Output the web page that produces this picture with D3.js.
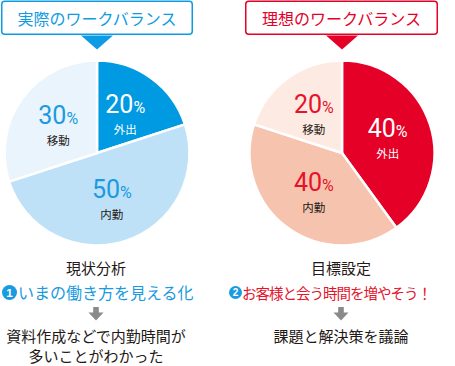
<!DOCTYPE html>
<html><head><meta charset="utf-8">
<script src="https://cdn.jsdelivr.net/npm/d3@7"></script>
<style>
html,body{margin:0;padding:0;background:#fff;}
text{font-family:"Noto Sans CJK JP","Noto Sans",sans-serif;}
</style></head>
<body><svg id="c" width="455" height="366"></svg>
<script>
const categories = ["外出", "内勤", "移動"];
const actualValues = [20, 50, 30];
const idealValues = [40, 40, 20];
const titles = ["実際のワークバランス", "理想のワークバランス"];
const headings = ["現状分析", "目標設定"];
const badges = ["1", "2"];
const goals = ["いまの働き方を見える化", "お客様と会う時間を増やそう！"];
const resultsLeft = ["資料作成などで内勤時間が", "多いことがわかった"];
const resultsRight = ["課題と解決策を議論"];

const svg = d3.select("#c");
const black = "#231815";
const panels = [
  {values: actualValues, cx: 97, cy: 153, box: [1, 193], title: titles[0], main: "#0f9be3",
   colors: ["#009ae3", "#bee1f7", "#e9f4fc"], labelColors: ["#ffffff", "#1a9ae1", "#1a9ae1"], catColors: ["#ffffff", black, black],
   heading: headings[0], badge: badges[0], goal: goals[0], goalSize: 16, goalSpacing: 0, goalColor: "#1a9ae1", badgeColor: "#1a9ae1",
   badgeR: 7.5, badgeX: 9.5, goalX: 18, results: resultsLeft, tx: 96},
  {values: idealValues, cx: 342, cy: 153, box: [245, 438], title: titles[1], main: "#e50027",
   colors: ["#e50027", "#f6c4ae", "#fdebe3"], labelColors: ["#ffffff", "#e5132b", "#e5132b"], catColors: ["#ffffff", black, black],
   heading: headings[1], badge: badges[1], goal: goals[1], goalSize: 14.5, goalSpacing: -1, goalColor: "#e5132b", badgeColor: "#1a9ae1",
   badgeR: 6.5, badgeX: 235.5, goalX: 242, results: resultsRight, tx: 341}
];

const R = 92.5;
const pie = d3.pie().sort(null).value(d => d);
const arc = d3.arc().innerRadius(0).outerRadius(R);
const labelArc = d3.arc().innerRadius(48).outerRadius(48);

panels.forEach(p => {
  svg.append("rect").attr("x", p.box[0] + 0.75).attr("y", 1.25)
    .attr("width", p.box[1] - p.box[0] - 1.5).attr("height", 33)
    .attr("rx", 3).attr("fill", "#fff").attr("stroke", p.main).attr("stroke-width", 1.5);
  svg.append("text").attr("x", (p.box[0] + p.box[1]) / 2).attr("y", 25)
    .attr("text-anchor", "middle").attr("font-size", 16).attr("fill", p.main).text(p.title);
  svg.append("path")
    .attr("d", `M${p.cx - 16},35.5 L${p.cx + 16},35.5 L${p.cx},49.5 Z`).attr("fill", p.main);

  const g = svg.append("g").attr("transform", `translate(${p.cx},${p.cy})`);
  const arcs = pie(p.values);
  g.selectAll("path.s").data(arcs).join("path").attr("class", "s")
    .attr("d", arc).attr("fill", (d, i) => p.colors[i])
    .attr("stroke", "#fff").attr("stroke-width", 2.5).attr("stroke-linejoin", "round");

  arcs.forEach((d, i) => {
    const [x, y0] = labelArc.centroid(d);
    const y = y0 + 5;
    const t = g.append("text").attr("x", x).attr("y", y - 6).attr("text-anchor", "middle")
      .attr("fill", p.labelColors[i]).style("font-family", "Roboto, 'Liberation Sans', sans-serif")
      .style("font-weight", 400);
    t.append("tspan").attr("font-size", 25).text(p.values[i]);
    t.append("tspan").attr("font-size", 16).text("%");
    g.append("text").attr("x", x).attr("y", y + 15).attr("text-anchor", "middle")
      .attr("font-size", 11.5).attr("fill", p.catColors[i]).text(categories[i]);
  });

  svg.append("text").attr("x", p.tx).attr("y", 274).attr("text-anchor", "middle")
    .attr("font-size", 15).attr("fill", black).text(p.heading);
  const br = p.badgeR;
  svg.append("circle").attr("cx", p.badgeX).attr("cy", 292.5).attr("r", br).attr("fill", p.badgeColor);
  svg.append("text").attr("x", p.badgeX).attr("y", 292.5 + br * 0.55).attr("text-anchor", "middle")
    .attr("font-size", br * 1.55).attr("font-weight", 700).attr("fill", "#fff")
    .style("font-family", "'Liberation Sans', sans-serif").text(p.badge);
  svg.append("text").attr("x", p.goalX).attr("y", 298.5).attr("font-size", p.goalSize)
    .attr("letter-spacing", p.goalSpacing)
    .attr("fill", p.goalColor).text(p.goal);

  const ax = p.tx;
  svg.append("path").attr("d",
    `M${ax - 2.8},307 L${ax + 2.8},307 L${ax + 2.8},312.5 L${ax + 7.5},312.5 L${ax},320.5 L${ax - 7.5},312.5 L${ax - 2.8},312.5 Z`)
    .attr("fill", "#8a8a8a");

  p.results.forEach((s, i) => {
    svg.append("text").attr("x", p.tx).attr("y", 342 + i * 20).attr("text-anchor", "middle")
      .attr("font-size", 15).attr("fill", black).text(s);
  });
});
</script></body></html>
